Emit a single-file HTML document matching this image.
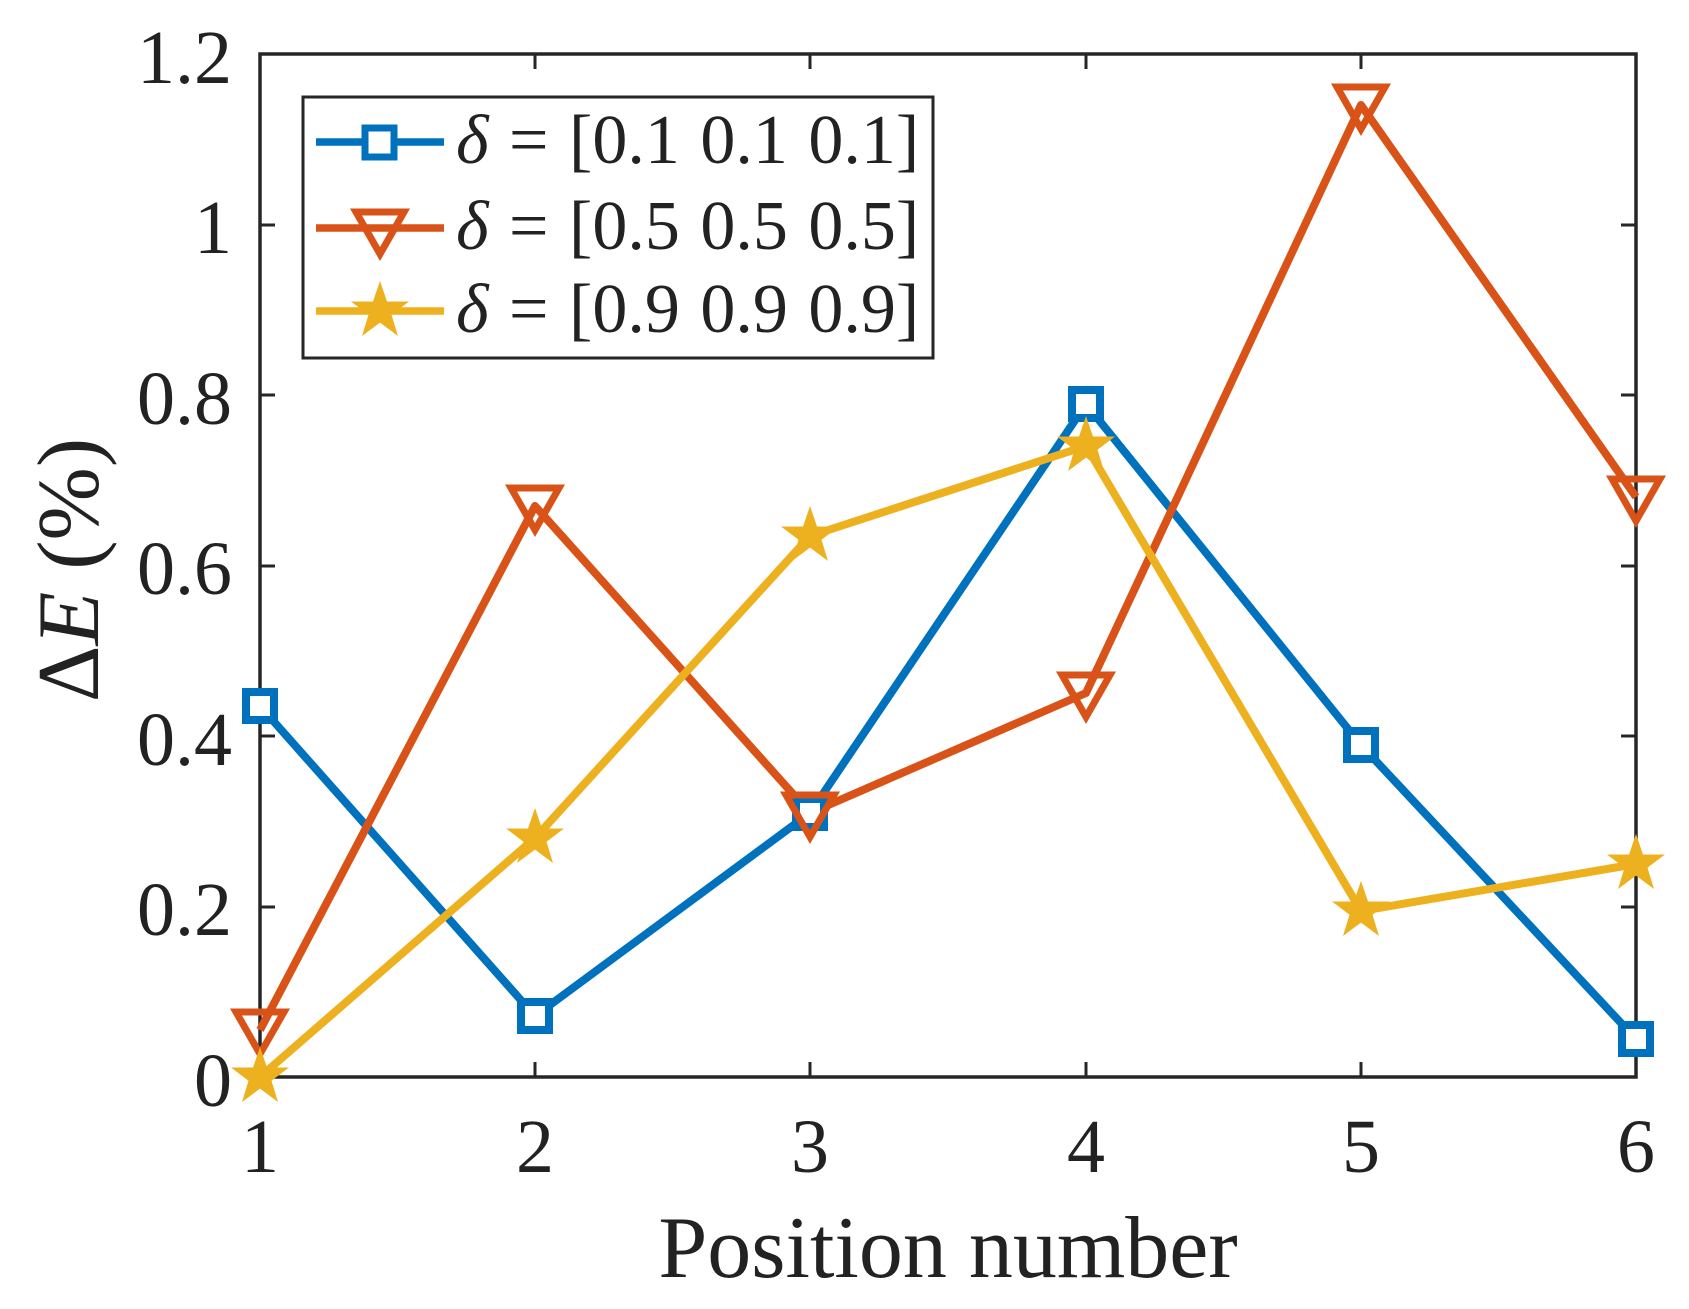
<!DOCTYPE html>
<html><head><meta charset="utf-8"><style>
html,body{margin:0;padding:0;background:#fff}
svg{display:block}
text{font-family:"Liberation Serif",serif;fill:#222}
</style></head><body>
<svg width="1689" height="1309" viewBox="0 0 1689 1309" xmlns="http://www.w3.org/2000/svg">
<defs>
<polygon id="star" points="0,-30 7,-9.5 29,-9.5 11.5,3.7 18,25 0,11.6 -18,25 -11.5,3.7 -29,-9.5 -7,-9.5" />
</defs>
<rect width="1689" height="1309" fill="#fff"/>
<g stroke="#262626" stroke-width="3">
<line x1="260" y1="907" x2="275" y2="907"/><line x1="1636" y1="907" x2="1621" y2="907"/>
<line x1="260" y1="736" x2="275" y2="736"/><line x1="1636" y1="736" x2="1621" y2="736"/>
<line x1="260" y1="566" x2="275" y2="566"/><line x1="1636" y1="566" x2="1621" y2="566"/>
<line x1="260" y1="395" x2="275" y2="395"/><line x1="1636" y1="395" x2="1621" y2="395"/>
<line x1="260" y1="225" x2="275" y2="225"/><line x1="1636" y1="225" x2="1621" y2="225"/>
<line x1="535" y1="1077" x2="535" y2="1062"/><line x1="535" y1="54" x2="535" y2="69"/>
<line x1="810" y1="1077" x2="810" y2="1062"/><line x1="810" y1="54" x2="810" y2="69"/>
<line x1="1086" y1="1077" x2="1086" y2="1062"/><line x1="1086" y1="54" x2="1086" y2="69"/>
<line x1="1361" y1="1077" x2="1361" y2="1062"/><line x1="1361" y1="54" x2="1361" y2="69"/>
</g>
<rect x="260" y="54" width="1376" height="1023" fill="none" stroke="#262626" stroke-width="3.5"/>
<g font-size="76" text-anchor="end">
<text x="232" y="83">1.2</text>
<text x="232" y="253">1</text>
<text x="232" y="424">0.8</text>
<text x="232" y="594">0.6</text>
<text x="232" y="765">0.4</text>
<text x="232" y="935">0.2</text>
<text x="232" y="1106">0</text>
</g>
<g font-size="76" text-anchor="middle">
<text x="260" y="1172">1</text><text x="535" y="1172">2</text><text x="810" y="1172">3</text>
<text x="1086" y="1172">4</text><text x="1361" y="1172">5</text><text x="1636" y="1172">6</text>
</g>
<text x="948" y="1277" font-size="88" text-anchor="middle">Position number</text>
<text transform="translate(98,570) rotate(-90)" font-size="88" text-anchor="middle">Δ<tspan font-style="italic">E</tspan> (%)</text>
<g fill="none" stroke-width="8" stroke-linejoin="round">
<polyline stroke="#0072BD" points="260,706 535,1016 810,813 1086,404 1361,745 1636,1039"/>
<polyline stroke="#D95319" points="260,1030 535,506 810,813 1086,693 1361,105 1636,497"/>
<polyline stroke="#EDB120" points="260,1077 535,838 810,536 1086,446 1361,911 1636,864"/>
</g>
<g fill="#fff" stroke="#0072BD" stroke-width="8">
<rect x="246" y="692" width="28" height="28"/><rect x="521" y="1002" width="28" height="28"/>
<rect x="796" y="799" width="28" height="28"/><rect x="1072" y="390" width="28" height="28"/>
<rect x="1347" y="731" width="28" height="28"/><rect x="1622" y="1025" width="28" height="28"/>
</g>
<g fill="none" stroke="#D95319" stroke-width="7">
<polygon points="236,1012 284,1012 260,1054"/><polygon points="511,488 559,488 535,530"/>
<polygon points="786,795 834,795 810,837"/><polygon points="1062,675 1110,675 1086,717"/>
<polygon points="1337,87 1385,87 1361,129"/><polygon points="1612,479 1660,479 1636,521"/>
</g>
<g fill="#EDB120">
<use href="#star" x="260" y="1077"/><use href="#star" x="535" y="838"/><use href="#star" x="810" y="536"/>
<use href="#star" x="1086" y="446"/><use href="#star" x="1361" y="911"/><use href="#star" x="1636" y="864"/>
</g>
<rect x="303" y="97" width="630" height="261" fill="#fff" stroke="#262626" stroke-width="3"/>
<g stroke-width="7.5">
<line x1="316" y1="142" x2="444" y2="142" stroke="#0072BD"/>
<line x1="316" y1="228" x2="444" y2="228" stroke="#D95319"/>
<line x1="316" y1="311" x2="444" y2="311" stroke="#EDB120"/>
</g>
<rect x="365" y="128" width="29" height="29" fill="#fff" stroke="#0072BD" stroke-width="7"/>
<polygon points="356,212 404,212 380,254" fill="none" stroke="#D95319" stroke-width="7"/>
<use href="#star" x="380" y="311" fill="#EDB120"/>
<g font-size="70" word-spacing="3">
<text x="456" y="163"><tspan font-style="italic">δ</tspan> = [0.1 0.1 0.1]</text>
<text x="456" y="249"><tspan font-style="italic">δ</tspan> = [0.5 0.5 0.5]</text>
<text x="456" y="332"><tspan font-style="italic">δ</tspan> = [0.9 0.9 0.9]</text>
</g>
</svg>
</body></html>
